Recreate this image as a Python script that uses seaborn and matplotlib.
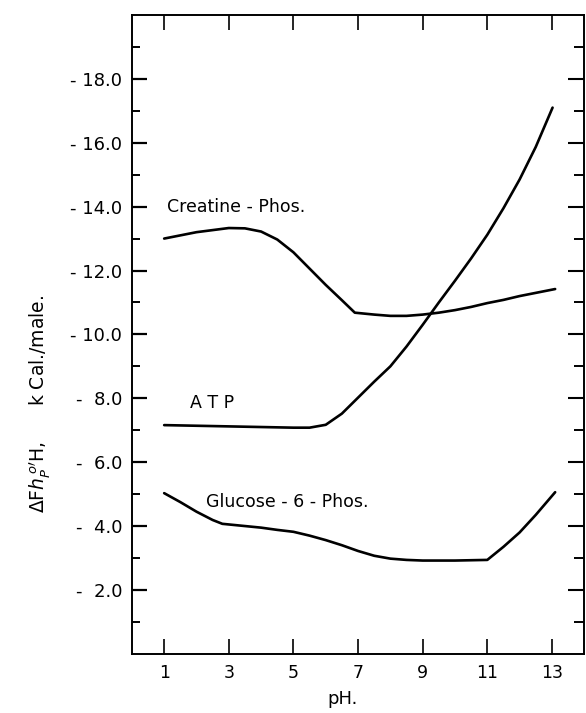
import numpy as np
import matplotlib
matplotlib.use("Agg")
import matplotlib.pyplot as plt
import pandas as pd
import seaborn as sns

# values (plotted as -dF, kCal/mole)
creatine_ph = [1, 2, 3, 3.5, 4, 4.5, 5, 5.5, 6, 6.5, 6.9, 7.5, 8, 8.5, 9, 9.5, 10, 10.5, 11, 11.5, 12, 12.5, 13.1]
creatine_dF = [13.0, 13.2, 13.33, 13.32, 13.22, 12.97, 12.57, 12.06, 11.55, 11.07, 10.68, 10.62, 10.58, 10.58,
               10.62, 10.68, 10.76, 10.86, 10.98, 11.08, 11.2, 11.3, 11.42]

atp_ph = [1, 2, 3, 4, 5, 5.5, 6, 6.5, 7, 7.5, 8, 8.5, 9, 9.5, 10, 10.5, 11, 11.5, 12, 12.5, 13.02]
atp_dF = [7.16, 7.14, 7.12, 7.1, 7.08, 7.08, 7.17, 7.52, 8.02, 8.52, 9.0, 9.62, 10.3, 11.0, 11.68, 12.38,
          13.12, 13.95, 14.85, 15.87, 17.1]

glucose_ph = [1, 1.5, 2, 2.5, 2.8, 3.5, 4, 4.5, 5, 5.5, 6, 6.5, 7, 7.5, 8, 8.5, 9, 10, 11, 11.5, 12, 12.5, 13.1]
glucose_dF = [5.03, 4.75, 4.45, 4.19, 4.07, 4.0, 3.95, 3.88, 3.82, 3.7, 3.56, 3.4, 3.22, 3.07, 2.98, 2.94,
              2.92, 2.92, 2.94, 3.35, 3.8, 4.35, 5.06]

x_ticks = [1, 3, 5, 7, 9, 11, 13]
y_ticks = [2, 4, 6, 8, 10, 12, 14, 16, 18]
y_labels = ["-  2.0", "-  4.0", "-  6.0", "-  8.0", "- 10.0", "- 12.0", "- 14.0", "- 16.0", "- 18.0"]

df = pd.concat([
    pd.DataFrame({"pH": creatine_ph, "dF": creatine_dF, "compound": "Creatine-Phos."}),
    pd.DataFrame({"pH": atp_ph, "dF": atp_dF, "compound": "ATP"}),
    pd.DataFrame({"pH": glucose_ph, "dF": glucose_dF, "compound": "Glucose-6-Phos."}),
])

sns.set_style("ticks")
plt.rcParams["font.family"] = ["DejaVu Sans"]
plt.rcParams["text.color"] = "black"
plt.rcParams["xtick.color"] = "black"
plt.rcParams["ytick.color"] = "black"
plt.rcParams["axes.edgecolor"] = "black"

fig = plt.figure(figsize=(5.86, 7.13), dpi=100)
ax = fig.add_axes([0.225, 0.083, 0.772, 0.896])

sns.lineplot(data=df, x="pH", y="dF", hue="compound", units="compound", estimator=None,
             palette={"Creatine-Phos.": "black", "ATP": "black", "Glucose-6-Phos.": "black"},
             linewidth=1.9, legend=False, sort=True, ax=ax)

ax.set_xlim(0, 14)
ax.set_ylim(0, 20)
ax.set_xlabel("")
ax.set_ylabel("")

ax.set_xticks(x_ticks)
ax.set_xticklabels([str(v) for v in x_ticks], fontsize=12.5)
ax.set_yticks(y_ticks)
ax.set_yticklabels(y_labels, fontsize=13)
ax.set_yticks(np.arange(1, 20, 2), minor=True)

ax.tick_params(axis="x", which="major", direction="in", length=10.5, width=1.2, pad=7,
               top=True, bottom=True)
ax.tick_params(axis="y", which="major", direction="in", length=11, width=1.6, pad=7,
               left=True, right=False)
ax.tick_params(axis="y", which="minor", direction="in", length=6, width=1.4, left=True, right=False)

# right-hand ticks at every unit, longer at even values
ax2 = ax.twinx()
ax2.set_ylim(0, 20)
ax2.set_yticks(y_ticks)
ax2.set_yticks(np.arange(1, 20, 2), minor=True)
ax2.tick_params(axis="y", which="major", direction="in", length=11.5, width=1.5, labelright=False)
ax2.tick_params(axis="y", which="minor", direction="in", length=7, width=1.4, labelright=False)
for a in (ax, ax2):
    for s in a.spines.values():
        s.set_linewidth(1.2)
        s.set_visible(True)

ax.text(1.1, 14.0, "Creatine - Phos.", fontsize=12.5, va="center", ha="left")
ax.text(1.8, 7.85, "A T P", fontsize=12.5, va="center", ha="left")
ax.text(2.3, 4.75, "Glucose - 6 - Phos.", fontsize=12.5, va="center", ha="left")

fig.text(0.584, 0.02, "pH.", fontsize=13, ha="center", va="center")
fig.text(0.068, 0.433, r"$\Delta$F$\mathit{h}^{\,o\prime}_{P}$H,      k Cal./male.",
         fontsize=13.5, rotation=90, ha="center", va="center")

fig.savefig("out.png", dpi=100)
